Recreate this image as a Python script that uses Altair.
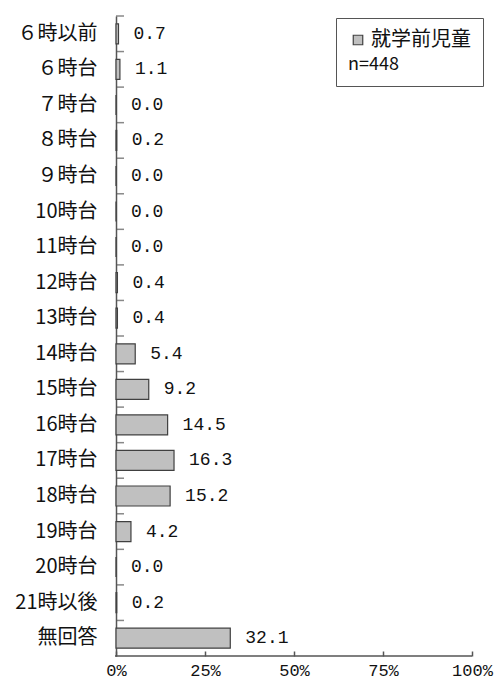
import altair as alt
import pandas as pd

categories = ["６時以前", "６時台", "７時台", "８時台", "９時台", "10時台", "11時台",
              "12時台", "13時台", "14時台", "15時台", "16時台", "17時台", "18時台",
              "19時台", "20時台", "21時以後", "無回答"]
values = [0.7, 1.1, 0.0, 0.2, 0.0, 0.0, 0.0, 0.4, 0.4, 5.4, 9.2, 14.5, 16.3, 15.2,
          4.2, 0.0, 0.2, 32.1]
series_name = "就学前児童"
sample_note = "n=448"
x_ticks = [0, 25, 50, 75, 100]

W, H = 356, 640
STEP = H / len(categories)
JP = "Noto Sans CJK JP"
NUM = "Liberation Mono"
AX = "#555555"

df = pd.DataFrame({"cat": categories, "val": values, "series": series_name})

yscale = alt.Scale(paddingInner=0, paddingOuter=0)
yenc = alt.Y("cat:N", sort=categories, scale=yscale,
             axis=alt.Axis(title=None, domain=True, domainColor=AX, domainWidth=1.5,
                           ticks=False, labelPadding=19,
                           labelFont=JP, labelFontSize=20, labelColor="#111"))
xenc = alt.X("val:Q", scale=alt.Scale(domain=[0, 100], nice=False),
             axis=alt.Axis(title=None, values=x_ticks, domain=False, grid=False,
                           offset=-5, ticks=True, tickSize=5, tickColor=AX, tickWidth=1.5,
                           labelExpr="datum.value + '%'", labelPadding=6,
                           labelFont=NUM, labelFontSize=17, labelColor="#111",
                           labelFlush=False))

bars = alt.Chart(df).mark_bar(size=20, stroke="#404040", strokeWidth=1.2).encode(
    x=xenc, y=yenc,
    color=alt.Color("series:N",
                    scale=alt.Scale(range=["#c0c0c0"]),
                    legend=alt.Legend(title="\u2002\u2002" + sample_note, orient="none",
                                      legendX=220, legendY=2, titleOrient="bottom",
                                      titleFont=JP, titleFontSize=18, titleFontWeight="normal",
                                      titleColor="#111", titlePadding=6,
                                      labelFont=JP, labelFontSize=20, labelColor="#111",
                                      labelOffset=3,
                                      symbolType="square", symbolSize=90,
                                      symbolStrokeColor="#404040", symbolStrokeWidth=1.2,
                                      strokeColor=AX, fillColor="white", padding=12,
                                      cornerRadius=0)),
)

labels = alt.Chart(df).mark_text(align="left", baseline="middle", dx=15,
                                 font=NUM, fontSize=18, color="#111").encode(
    x=xenc, y=yenc,
    text=alt.Text("val:Q", format=".1f"),
)

yticks = alt.Chart(df).mark_tick(color=AX, thickness=1.5, size=8,
                                 orient="horizontal", yOffset=-STEP / 2).encode(
    y=alt.Y("cat:N", sort=categories, scale=yscale),
    x=alt.value(4))

dom = pd.DataFrame({"k": [0]})
xdomain = alt.Chart(dom).mark_rule(color=AX, strokeWidth=1.5).encode(
    x=alt.value(-1), x2=alt.value(W), y=alt.value(H))

chart = alt.layer(bars, labels, yticks, xdomain).properties(
    width=W, height=H,
    autosize=alt.AutoSizeParams(type="none"),
    padding={"left": 108, "top": 8, "right": 22, "bottom": 27},
).configure_view(stroke=None)

chart.save("out.html", embed_options={"renderer": "svg", "actions": False})
